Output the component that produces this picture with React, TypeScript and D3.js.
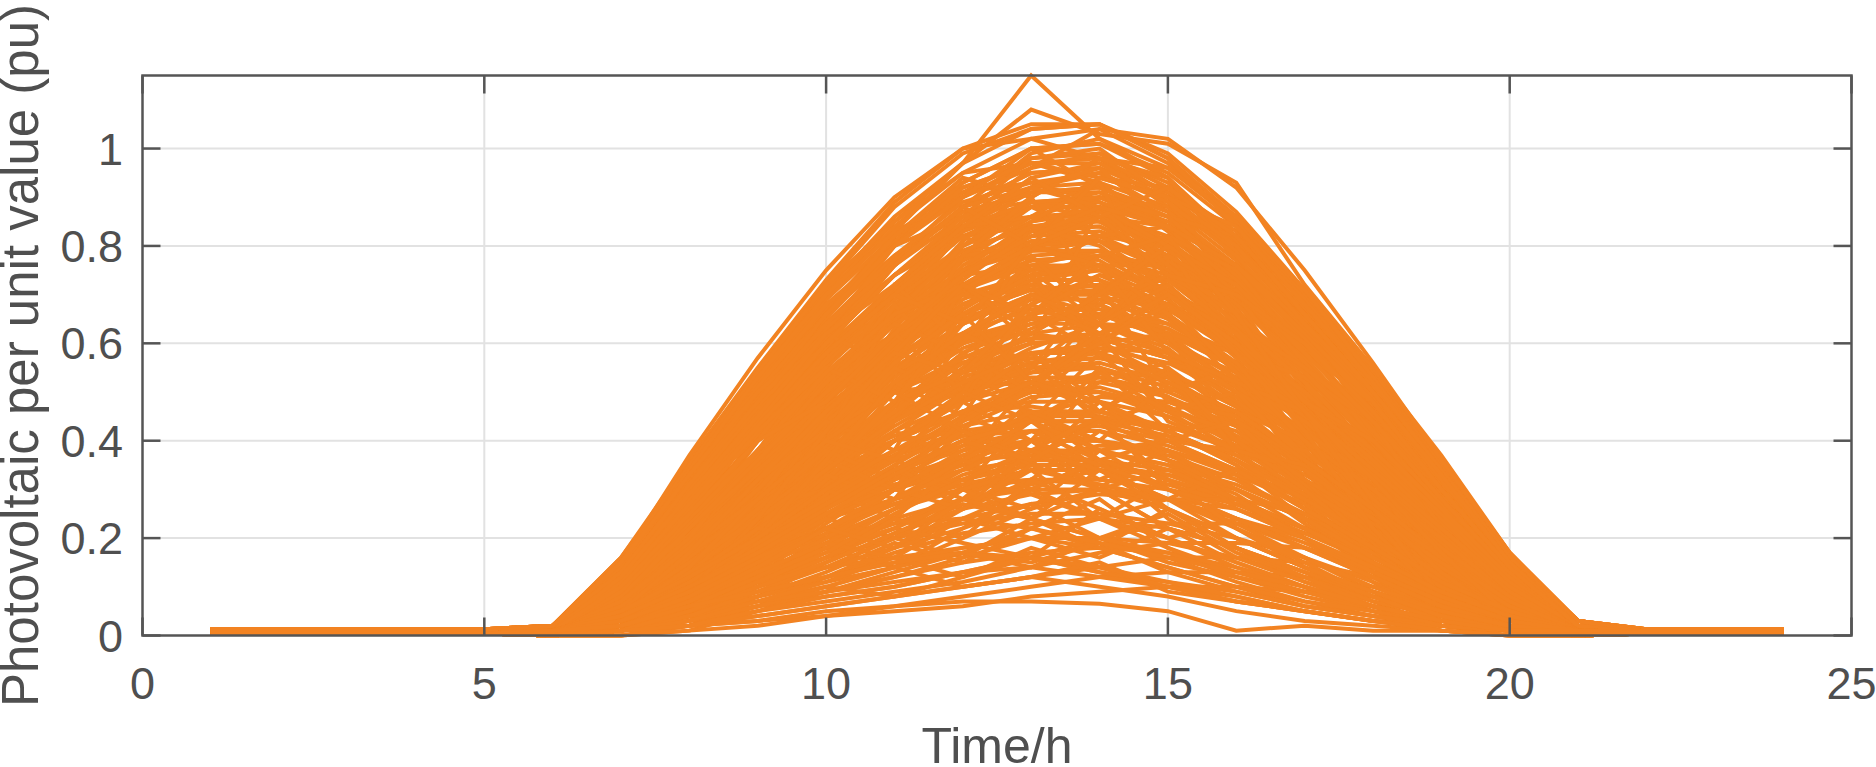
import React from "react";
import * as d3 from "d3";

// hours of the day, 1..24
const hours = [1, 2, 3, 4, 5, 6, 7, 8, 9, 10, 11, 12, 13, 14, 15, 16, 17, 18, 19, 20, 21, 22, 23, 24];

// night values (hours 1-5 and 22-24)
const nightHigh = [0.013, 0.013, 0.013, 0.013, 0.013];
const nightMid = [0.008, 0.008, 0.008, 0.008, 0.008];
const nightLow = [0.004, 0.004, 0.004, 0.004, 0.004];
const eveHigh = [0.013, 0.013, 0.013];
const eveMid = [0.008, 0.008, 0.008];
const eveLow = [0.004, 0.004, 0.004];

// daytime values, hours 6..21
const clearSummer = [
  [0.02, 0.16, 0.36, 0.55, 0.73, 0.89, 1.0, 1.05, 1.05, 0.99, 0.87, 0.71, 0.55, 0.36, 0.17, 0.03],
  [0.02, 0.16, 0.35, 0.54, 0.72, 0.88, 0.99, 1.04, 1.05, 0.98, 0.86, 0.7, 0.54, 0.35, 0.16, 0.03],
  [0.02, 0.15, 0.34, 0.53, 0.71, 0.86, 0.97, 1.15, 1.02, 0.96, 0.85, 0.7, 0.53, 0.34, 0.16, 0.02],
  [0.02, 0.15, 0.34, 0.52, 0.7, 0.85, 0.97, 1.08, 1.03, 1.01, 0.93, 0.72, 0.55, 0.37, 0.17, 0.03],
  [0.02, 0.14, 0.33, 0.51, 0.69, 0.84, 0.95, 1.02, 1.04, 0.97, 0.85, 0.7, 0.53, 0.35, 0.16, 0.03],
  [0.02, 0.14, 0.32, 0.5, 0.67, 0.82, 0.93, 1.0, 1.01, 0.95, 0.84, 0.69, 0.52, 0.33, 0.15, 0.02],
  [0.02, 0.13, 0.31, 0.48, 0.65, 0.8, 0.91, 0.98, 0.99, 0.93, 0.82, 0.67, 0.5, 0.32, 0.15, 0.02],
  [0.01, 0.12, 0.29, 0.46, 0.62, 0.77, 0.88, 0.95, 0.96, 0.9, 0.79, 0.65, 0.49, 0.31, 0.14, 0.02],
  [0.01, 0.12, 0.28, 0.44, 0.6, 0.74, 0.85, 0.92, 0.93, 0.88, 0.77, 0.63, 0.47, 0.3, 0.13, 0.02],
  [0.01, 0.11, 0.26, 0.42, 0.57, 0.71, 0.82, 0.88, 0.9, 0.85, 0.75, 0.61, 0.46, 0.29, 0.13, 0.02],
  [0.01, 0.1, 0.25, 0.4, 0.55, 0.68, 0.78, 0.85, 0.87, 0.82, 0.72, 0.59, 0.44, 0.28, 0.12, 0.02],
  [0.01, 0.1, 0.23, 0.38, 0.52, 0.65, 0.75, 0.82, 0.83, 0.78, 0.69, 0.57, 0.42, 0.27, 0.12, 0.02],
  [0.01, 0.09, 0.22, 0.36, 0.49, 0.62, 0.72, 0.78, 0.79, 0.75, 0.66, 0.54, 0.4, 0.26, 0.11, 0.02],
  [0.01, 0.09, 0.21, 0.34, 0.47, 0.58, 0.68, 0.74, 0.75, 0.71, 0.63, 0.52, 0.38, 0.24, 0.1, 0.02],
  [0.01, 0.08, 0.19, 0.31, 0.44, 0.55, 0.64, 0.7, 0.71, 0.67, 0.59, 0.49, 0.36, 0.23, 0.1, 0.01],
  [0.01, 0.08, 0.18, 0.29, 0.41, 0.51, 0.6, 0.65, 0.66, 0.62, 0.55, 0.45, 0.34, 0.21, 0.09, 0.01],
  [0.01, 0.07, 0.16, 0.27, 0.38, 0.48, 0.56, 0.61, 0.62, 0.58, 0.51, 0.42, 0.31, 0.2, 0.08, 0.01],
  [0.01, 0.06, 0.15, 0.25, 0.35, 0.44, 0.51, 0.56, 0.57, 0.54, 0.47, 0.39, 0.29, 0.18, 0.08, 0.01],
  [0.02, 0.15, 0.33, 0.5, 0.67, 0.81, 0.92, 0.97, 0.97, 0.91, 0.81, 0.66, 0.5, 0.33, 0.16, 0.03],
  [0.02, 0.14, 0.31, 0.47, 0.63, 0.76, 0.86, 0.91, 0.91, 0.86, 0.76, 0.62, 0.47, 0.31, 0.15, 0.03],
  [0.02, 0.13, 0.29, 0.45, 0.59, 0.72, 0.82, 0.86, 0.86, 0.81, 0.71, 0.58, 0.45, 0.29, 0.14, 0.03],
  [0.01, 0.08, 0.18, 0.28, 0.37, 0.45, 0.5, 0.53, 0.53, 0.5, 0.44, 0.36, 0.28, 0.18, 0.08, 0.02],
  [0.01, 0.07, 0.16, 0.25, 0.33, 0.4, 0.46, 0.48, 0.48, 0.45, 0.4, 0.33, 0.25, 0.16, 0.08, 0.01],
  [0.01, 0.07, 0.15, 0.23, 0.3, 0.37, 0.42, 0.44, 0.44, 0.41, 0.37, 0.3, 0.23, 0.15, 0.07, 0.01],
  [0.01, 0.06, 0.14, 0.21, 0.28, 0.34, 0.38, 0.4, 0.4, 0.38, 0.33, 0.27, 0.21, 0.14, 0.06, 0.01],
  [0.01, 0.05, 0.12, 0.19, 0.25, 0.3, 0.34, 0.36, 0.36, 0.34, 0.3, 0.24, 0.19, 0.12, 0.06, 0.01],
  [0.01, 0.05, 0.11, 0.17, 0.22, 0.27, 0.3, 0.32, 0.32, 0.3, 0.27, 0.22, 0.17, 0.11, 0.05, 0.01],
];

const earlyPeak = [
  [0.02, 0.15, 0.37, 0.57, 0.75, 0.9, 1.0, 1.02, 0.98, 0.88, 0.73, 0.57, 0.41, 0.24, 0.1, 0.02],
  [0.02, 0.15, 0.35, 0.54, 0.72, 0.85, 0.95, 0.97, 0.93, 0.83, 0.7, 0.54, 0.39, 0.23, 0.1, 0.02],
  [0.02, 0.14, 0.33, 0.52, 0.69, 0.82, 0.91, 0.93, 0.89, 0.8, 0.67, 0.52, 0.37, 0.22, 0.09, 0.02],
  [0.02, 0.13, 0.32, 0.5, 0.66, 0.78, 0.87, 0.89, 0.85, 0.77, 0.64, 0.5, 0.36, 0.21, 0.09, 0.02],
  [0.02, 0.13, 0.3, 0.47, 0.62, 0.74, 0.82, 0.84, 0.81, 0.72, 0.6, 0.47, 0.34, 0.2, 0.08, 0.02],
  [0.02, 0.12, 0.29, 0.45, 0.59, 0.7, 0.78, 0.8, 0.77, 0.69, 0.58, 0.45, 0.32, 0.19, 0.08, 0.02],
  [0.01, 0.11, 0.27, 0.43, 0.56, 0.67, 0.74, 0.76, 0.73, 0.65, 0.55, 0.43, 0.3, 0.18, 0.08, 0.01],
  [0.01, 0.11, 0.26, 0.4, 0.53, 0.62, 0.7, 0.71, 0.68, 0.61, 0.51, 0.4, 0.28, 0.17, 0.07, 0.01],
  [0.01, 0.1, 0.24, 0.38, 0.5, 0.59, 0.66, 0.67, 0.64, 0.58, 0.48, 0.38, 0.27, 0.16, 0.07, 0.01],
  [0.01, 0.09, 0.22, 0.35, 0.46, 0.55, 0.61, 0.62, 0.6, 0.53, 0.45, 0.35, 0.25, 0.15, 0.06, 0.01],
  [0.01, 0.09, 0.21, 0.32, 0.42, 0.5, 0.56, 0.57, 0.55, 0.49, 0.41, 0.32, 0.23, 0.14, 0.06, 0.01],
  [0.01, 0.08, 0.19, 0.29, 0.38, 0.46, 0.51, 0.52, 0.5, 0.45, 0.37, 0.29, 0.21, 0.12, 0.05, 0.01],
  [0.01, 0.07, 0.17, 0.26, 0.35, 0.41, 0.46, 0.47, 0.45, 0.4, 0.34, 0.26, 0.19, 0.11, 0.05, 0.01],
  [0.01, 0.06, 0.15, 0.24, 0.31, 0.37, 0.41, 0.42, 0.4, 0.36, 0.3, 0.24, 0.17, 0.1, 0.04, 0.01],
  [0.01, 0.06, 0.13, 0.21, 0.27, 0.33, 0.36, 0.37, 0.36, 0.32, 0.27, 0.21, 0.15, 0.09, 0.04, 0.01],
  [0.01, 0.05, 0.12, 0.18, 0.24, 0.28, 0.31, 0.32, 0.31, 0.28, 0.23, 0.18, 0.13, 0.08, 0.03, 0.01],
];

const latePeak = [
  [0.01, 0.08, 0.23, 0.4, 0.56, 0.71, 0.85, 0.96, 1.04, 1.02, 0.92, 0.75, 0.56, 0.36, 0.17, 0.03],
  [0.01, 0.08, 0.22, 0.37, 0.53, 0.67, 0.8, 0.9, 0.98, 0.96, 0.86, 0.71, 0.53, 0.34, 0.16, 0.03],
  [0.01, 0.08, 0.21, 0.36, 0.51, 0.64, 0.77, 0.86, 0.94, 0.92, 0.83, 0.68, 0.51, 0.33, 0.15, 0.03],
  [0.01, 0.07, 0.2, 0.34, 0.49, 0.61, 0.74, 0.83, 0.9, 0.88, 0.79, 0.65, 0.49, 0.32, 0.14, 0.03],
  [0.01, 0.07, 0.19, 0.33, 0.46, 0.58, 0.71, 0.79, 0.86, 0.84, 0.76, 0.62, 0.46, 0.3, 0.14, 0.03],
  [0.01, 0.07, 0.18, 0.31, 0.44, 0.56, 0.67, 0.75, 0.82, 0.8, 0.72, 0.59, 0.44, 0.29, 0.13, 0.02],
  [0.01, 0.06, 0.17, 0.3, 0.42, 0.53, 0.64, 0.72, 0.78, 0.76, 0.69, 0.56, 0.42, 0.27, 0.12, 0.02],
  [0.01, 0.06, 0.16, 0.28, 0.4, 0.5, 0.61, 0.68, 0.74, 0.73, 0.65, 0.53, 0.4, 0.26, 0.12, 0.02],
  [0.01, 0.06, 0.15, 0.26, 0.37, 0.47, 0.57, 0.63, 0.69, 0.68, 0.61, 0.5, 0.37, 0.24, 0.11, 0.02],
  [0.01, 0.05, 0.14, 0.24, 0.35, 0.44, 0.52, 0.59, 0.64, 0.63, 0.56, 0.46, 0.35, 0.22, 0.1, 0.02],
  [0.01, 0.05, 0.13, 0.22, 0.32, 0.4, 0.48, 0.54, 0.59, 0.58, 0.52, 0.42, 0.32, 0.21, 0.09, 0.02],
  [0.01, 0.04, 0.12, 0.21, 0.29, 0.37, 0.44, 0.5, 0.54, 0.53, 0.48, 0.39, 0.29, 0.19, 0.09, 0.02],
  [0.01, 0.04, 0.11, 0.19, 0.26, 0.33, 0.4, 0.45, 0.49, 0.48, 0.43, 0.35, 0.26, 0.17, 0.08, 0.01],
  [0.01, 0.04, 0.1, 0.17, 0.24, 0.3, 0.36, 0.4, 0.44, 0.43, 0.39, 0.32, 0.24, 0.15, 0.07, 0.01],
  [0.01, 0.03, 0.09, 0.15, 0.21, 0.27, 0.32, 0.36, 0.39, 0.38, 0.34, 0.28, 0.21, 0.14, 0.06, 0.01],
  [0.01, 0.03, 0.07, 0.13, 0.18, 0.23, 0.28, 0.31, 0.34, 0.33, 0.3, 0.24, 0.18, 0.12, 0.05, 0.01],
  [0.01, 0.02, 0.06, 0.11, 0.16, 0.2, 0.24, 0.27, 0.29, 0.28, 0.26, 0.21, 0.16, 0.1, 0.05, 0.01],
];

const clearSpring = [
  [0.01, 0.06, 0.23, 0.44, 0.65, 0.83, 0.97, 1.04, 1.05, 0.98, 0.84, 0.65, 0.44, 0.22, 0.05, 0.01],
  [0.01, 0.06, 0.22, 0.42, 0.62, 0.8, 0.93, 1.0, 1.01, 0.94, 0.81, 0.63, 0.43, 0.21, 0.05, 0.01],
  [0.01, 0.05, 0.21, 0.4, 0.59, 0.76, 0.88, 0.95, 0.96, 0.9, 0.78, 0.6, 0.41, 0.2, 0.05, 0.01],
  [0.01, 0.05, 0.2, 0.38, 0.56, 0.72, 0.84, 0.91, 0.92, 0.86, 0.74, 0.57, 0.39, 0.19, 0.05, 0.01],
  [0.01, 0.05, 0.19, 0.36, 0.53, 0.68, 0.8, 0.86, 0.87, 0.81, 0.7, 0.54, 0.37, 0.18, 0.04, 0.01],
  [0.01, 0.05, 0.18, 0.34, 0.5, 0.64, 0.75, 0.81, 0.82, 0.76, 0.66, 0.51, 0.35, 0.17, 0.04, 0.01],
  [0.01, 0.04, 0.16, 0.31, 0.46, 0.59, 0.69, 0.75, 0.76, 0.71, 0.61, 0.47, 0.32, 0.16, 0.04, 0.01],
  [0.01, 0.04, 0.15, 0.29, 0.42, 0.55, 0.64, 0.7, 0.7, 0.65, 0.56, 0.44, 0.3, 0.15, 0.04, 0.01],
  [0.01, 0.04, 0.14, 0.26, 0.39, 0.5, 0.59, 0.64, 0.64, 0.6, 0.52, 0.4, 0.27, 0.14, 0.03, 0.01],
  [0.01, 0.03, 0.12, 0.24, 0.35, 0.45, 0.53, 0.58, 0.58, 0.54, 0.47, 0.36, 0.25, 0.12, 0.03, 0.01],
  [0.01, 0.06, 0.21, 0.41, 0.61, 0.77, 0.9, 0.97, 0.98, 0.91, 0.78, 0.61, 0.41, 0.21, 0.05, 0.01],
  [0.01, 0.05, 0.19, 0.38, 0.56, 0.71, 0.83, 0.89, 0.9, 0.84, 0.72, 0.56, 0.38, 0.19, 0.05, 0.01],
  [0.01, 0.05, 0.18, 0.35, 0.52, 0.66, 0.77, 0.83, 0.84, 0.78, 0.67, 0.52, 0.35, 0.18, 0.04, 0.01],
  [0.01, 0.05, 0.16, 0.33, 0.48, 0.62, 0.72, 0.77, 0.78, 0.73, 0.62, 0.48, 0.33, 0.16, 0.04, 0.01],
  [0.01, 0.04, 0.15, 0.3, 0.45, 0.57, 0.66, 0.71, 0.72, 0.67, 0.58, 0.45, 0.3, 0.15, 0.04, 0.01],
  [0.01, 0.04, 0.14, 0.28, 0.41, 0.52, 0.61, 0.65, 0.66, 0.61, 0.53, 0.41, 0.28, 0.14, 0.03, 0.01],
  [0.01, 0.04, 0.13, 0.26, 0.38, 0.48, 0.56, 0.6, 0.61, 0.57, 0.49, 0.38, 0.26, 0.13, 0.03, 0.01],
  [0.01, 0.03, 0.12, 0.23, 0.34, 0.43, 0.51, 0.54, 0.55, 0.51, 0.44, 0.34, 0.23, 0.12, 0.03, 0.01],
  [0.01, 0.03, 0.11, 0.21, 0.31, 0.4, 0.46, 0.5, 0.5, 0.47, 0.4, 0.31, 0.21, 0.11, 0.03, 0.01],
  [0.01, 0.03, 0.09, 0.19, 0.28, 0.36, 0.41, 0.45, 0.45, 0.42, 0.36, 0.28, 0.19, 0.09, 0.02, 0.01],
  [0.01, 0.02, 0.08, 0.17, 0.25, 0.32, 0.37, 0.4, 0.4, 0.37, 0.32, 0.25, 0.17, 0.08, 0.02, 0.01],
  [0.01, 0.02, 0.07, 0.15, 0.22, 0.28, 0.32, 0.35, 0.35, 0.33, 0.28, 0.22, 0.15, 0.07, 0.02, 0.01],
  [0.01, 0.02, 0.06, 0.13, 0.19, 0.24, 0.28, 0.3, 0.3, 0.28, 0.24, 0.19, 0.13, 0.06, 0.02, 0.01],
  [0.01, 0.02, 0.05, 0.11, 0.16, 0.2, 0.23, 0.25, 0.25, 0.23, 0.2, 0.16, 0.11, 0.05, 0.01, 0.01],
  [0.01, 0.01, 0.04, 0.08, 0.12, 0.16, 0.18, 0.2, 0.2, 0.19, 0.16, 0.12, 0.08, 0.04, 0.01, 0.01],
];

const clearWinter = [
  [0.0, 0.01, 0.08, 0.26, 0.5, 0.71, 0.88, 0.99, 1.02, 0.94, 0.77, 0.54, 0.29, 0.08, 0.01, 0.0],
  [0.0, 0.01, 0.08, 0.25, 0.47, 0.67, 0.83, 0.94, 0.97, 0.89, 0.73, 0.51, 0.28, 0.08, 0.01, 0.0],
  [0.0, 0.01, 0.07, 0.23, 0.44, 0.63, 0.78, 0.88, 0.91, 0.84, 0.69, 0.48, 0.26, 0.07, 0.01, 0.0],
  [0.0, 0.01, 0.07, 0.22, 0.42, 0.59, 0.73, 0.83, 0.86, 0.79, 0.65, 0.46, 0.25, 0.07, 0.01, 0.0],
  [0.0, 0.01, 0.06, 0.2, 0.38, 0.54, 0.67, 0.76, 0.79, 0.72, 0.59, 0.42, 0.22, 0.06, 0.01, 0.0],
  [0.0, 0.01, 0.06, 0.18, 0.35, 0.5, 0.62, 0.7, 0.72, 0.66, 0.54, 0.38, 0.2, 0.06, 0.01, 0.0],
  [0.0, 0.01, 0.05, 0.16, 0.31, 0.44, 0.55, 0.62, 0.64, 0.59, 0.48, 0.34, 0.18, 0.05, 0.01, 0.0],
  [0.0, 0.01, 0.05, 0.15, 0.28, 0.4, 0.5, 0.56, 0.58, 0.53, 0.44, 0.31, 0.17, 0.05, 0.01, 0.0],
  [0.0, 0.01, 0.04, 0.13, 0.24, 0.35, 0.43, 0.49, 0.5, 0.46, 0.38, 0.27, 0.15, 0.04, 0.01, 0.0],
  [0.0, 0.01, 0.04, 0.11, 0.21, 0.3, 0.37, 0.42, 0.43, 0.4, 0.33, 0.23, 0.13, 0.04, 0.01, 0.0],
  [0.0, 0.01, 0.08, 0.24, 0.47, 0.66, 0.81, 0.92, 0.95, 0.87, 0.72, 0.5, 0.27, 0.08, 0.01, 0.0],
  [0.0, 0.01, 0.07, 0.22, 0.43, 0.61, 0.75, 0.85, 0.88, 0.81, 0.66, 0.47, 0.25, 0.07, 0.01, 0.0],
  [0.0, 0.01, 0.07, 0.21, 0.4, 0.57, 0.7, 0.8, 0.82, 0.75, 0.62, 0.44, 0.23, 0.07, 0.01, 0.0],
  [0.0, 0.01, 0.06, 0.19, 0.37, 0.52, 0.64, 0.73, 0.75, 0.69, 0.57, 0.4, 0.21, 0.06, 0.01, 0.0],
  [0.0, 0.01, 0.06, 0.17, 0.33, 0.47, 0.58, 0.66, 0.68, 0.62, 0.51, 0.36, 0.19, 0.06, 0.01, 0.0],
  [0.0, 0.01, 0.05, 0.15, 0.29, 0.42, 0.51, 0.58, 0.6, 0.55, 0.45, 0.32, 0.17, 0.05, 0.01, 0.0],
  [0.0, 0.01, 0.04, 0.14, 0.26, 0.37, 0.45, 0.51, 0.53, 0.49, 0.4, 0.28, 0.15, 0.04, 0.01, 0.0],
  [0.0, 0.01, 0.04, 0.12, 0.23, 0.32, 0.39, 0.45, 0.46, 0.42, 0.35, 0.24, 0.13, 0.04, 0.01, 0.0],
  [0.0, 0.01, 0.03, 0.1, 0.19, 0.26, 0.33, 0.37, 0.38, 0.35, 0.29, 0.2, 0.11, 0.03, 0.01, 0.0],
  [0.0, 0.01, 0.02, 0.08, 0.15, 0.21, 0.26, 0.29, 0.3, 0.28, 0.23, 0.16, 0.09, 0.02, 0.01, 0.0],
  [0.0, 0.0, 0.02, 0.06, 0.12, 0.17, 0.21, 0.23, 0.24, 0.22, 0.18, 0.13, 0.07, 0.02, 0.0, 0.0],
  [0.0, 0.0, 0.01, 0.05, 0.09, 0.12, 0.15, 0.17, 0.18, 0.17, 0.14, 0.1, 0.05, 0.01, 0.0, 0.0],
];

const mixedSky = [
  [0.02, 0.14, 0.34, 0.53, 0.7, 0.83, 0.9, 0.96, 0.99, 0.92, 0.8, 0.66, 0.5, 0.33, 0.15, 0.03],
  [0.02, 0.13, 0.32, 0.49, 0.66, 0.8, 0.92, 0.97, 0.94, 0.9, 0.79, 0.64, 0.49, 0.31, 0.14, 0.02],
  [0.01, 0.11, 0.29, 0.47, 0.64, 0.78, 0.89, 0.93, 0.95, 0.89, 0.78, 0.63, 0.46, 0.29, 0.13, 0.02],
  [0.01, 0.1, 0.27, 0.45, 0.63, 0.77, 0.87, 0.91, 0.92, 0.87, 0.76, 0.61, 0.45, 0.28, 0.12, 0.02],
  [0.01, 0.09, 0.25, 0.43, 0.6, 0.74, 0.84, 0.89, 0.89, 0.84, 0.73, 0.59, 0.43, 0.27, 0.12, 0.02],
  [0.01, 0.12, 0.3, 0.47, 0.62, 0.74, 0.83, 0.88, 0.88, 0.8, 0.69, 0.55, 0.4, 0.25, 0.11, 0.02],
  [0.01, 0.11, 0.28, 0.44, 0.58, 0.7, 0.79, 0.84, 0.84, 0.77, 0.66, 0.52, 0.38, 0.23, 0.1, 0.02],
  [0.01, 0.09, 0.24, 0.4, 0.56, 0.69, 0.79, 0.84, 0.85, 0.8, 0.7, 0.57, 0.42, 0.27, 0.12, 0.02],
  [0.01, 0.08, 0.22, 0.37, 0.52, 0.65, 0.75, 0.8, 0.81, 0.77, 0.68, 0.56, 0.41, 0.26, 0.11, 0.02],
  [0.01, 0.07, 0.2, 0.34, 0.48, 0.61, 0.71, 0.77, 0.78, 0.74, 0.66, 0.54, 0.4, 0.25, 0.11, 0.02],
  [0.01, 0.1, 0.25, 0.4, 0.54, 0.66, 0.75, 0.79, 0.79, 0.73, 0.63, 0.5, 0.36, 0.22, 0.1, 0.02],
  [0.01, 0.09, 0.23, 0.37, 0.5, 0.62, 0.71, 0.76, 0.76, 0.71, 0.62, 0.5, 0.37, 0.23, 0.1, 0.02],
  [0.01, 0.08, 0.21, 0.35, 0.48, 0.59, 0.68, 0.73, 0.73, 0.68, 0.59, 0.48, 0.35, 0.22, 0.09, 0.01],
  [0.01, 0.07, 0.19, 0.32, 0.45, 0.57, 0.66, 0.71, 0.72, 0.68, 0.6, 0.49, 0.36, 0.22, 0.09, 0.01],
  [0.01, 0.09, 0.22, 0.35, 0.47, 0.57, 0.65, 0.69, 0.69, 0.64, 0.56, 0.45, 0.33, 0.2, 0.09, 0.01],
  [0.01, 0.08, 0.2, 0.32, 0.44, 0.54, 0.62, 0.67, 0.67, 0.63, 0.55, 0.45, 0.33, 0.21, 0.09, 0.01],
  [0.01, 0.07, 0.18, 0.3, 0.42, 0.52, 0.6, 0.65, 0.66, 0.62, 0.55, 0.45, 0.34, 0.21, 0.09, 0.01],
  [0.01, 0.08, 0.19, 0.3, 0.41, 0.5, 0.57, 0.61, 0.61, 0.57, 0.5, 0.4, 0.3, 0.19, 0.08, 0.01],
  [0.01, 0.07, 0.17, 0.28, 0.38, 0.47, 0.54, 0.58, 0.59, 0.56, 0.49, 0.4, 0.3, 0.19, 0.08, 0.01],
  [0.01, 0.06, 0.16, 0.26, 0.36, 0.45, 0.52, 0.56, 0.57, 0.54, 0.48, 0.39, 0.29, 0.18, 0.08, 0.01],
  [0.01, 0.07, 0.17, 0.27, 0.37, 0.45, 0.51, 0.55, 0.55, 0.51, 0.45, 0.36, 0.27, 0.17, 0.07, 0.01],
  [0.01, 0.06, 0.15, 0.25, 0.34, 0.42, 0.48, 0.52, 0.52, 0.49, 0.43, 0.35, 0.26, 0.16, 0.07, 0.01],
  [0.01, 0.05, 0.14, 0.23, 0.32, 0.4, 0.46, 0.5, 0.5, 0.47, 0.41, 0.34, 0.25, 0.16, 0.07, 0.01],
  [0.01, 0.06, 0.14, 0.23, 0.31, 0.38, 0.43, 0.46, 0.46, 0.43, 0.38, 0.31, 0.23, 0.14, 0.06, 0.01],
  [0.01, 0.05, 0.13, 0.21, 0.29, 0.36, 0.41, 0.44, 0.44, 0.41, 0.36, 0.29, 0.22, 0.14, 0.06, 0.01],
  [0.01, 0.05, 0.12, 0.2, 0.27, 0.34, 0.39, 0.42, 0.42, 0.39, 0.34, 0.28, 0.21, 0.13, 0.06, 0.01],
  [0.01, 0.04, 0.11, 0.18, 0.25, 0.31, 0.35, 0.38, 0.38, 0.35, 0.31, 0.25, 0.19, 0.12, 0.05, 0.01],
  [0.01, 0.04, 0.1, 0.16, 0.22, 0.27, 0.31, 0.34, 0.34, 0.31, 0.27, 0.22, 0.17, 0.11, 0.05, 0.01],
  [0.02, 0.14, 0.33, 0.51, 0.68, 0.8, 0.86, 0.98, 1.0, 0.9, 0.84, 0.68, 0.52, 0.34, 0.16, 0.03],
  [0.02, 0.13, 0.31, 0.5, 0.66, 0.82, 0.94, 0.9, 0.98, 0.94, 0.8, 0.66, 0.5, 0.33, 0.15, 0.03],
  [0.01, 0.12, 0.3, 0.48, 0.66, 0.8, 0.9, 1.0, 0.92, 0.86, 0.82, 0.66, 0.5, 0.32, 0.15, 0.02],
  [0.01, 0.11, 0.28, 0.46, 0.6, 0.76, 0.88, 0.92, 0.96, 0.84, 0.76, 0.64, 0.48, 0.3, 0.14, 0.02],
  [0.01, 0.1, 0.26, 0.44, 0.58, 0.72, 0.84, 0.86, 0.9, 0.86, 0.74, 0.6, 0.46, 0.28, 0.13, 0.02],
  [0.01, 0.09, 0.25, 0.4, 0.57, 0.7, 0.8, 0.88, 0.82, 0.84, 0.72, 0.56, 0.42, 0.27, 0.12, 0.02],
  [0.01, 0.08, 0.23, 0.38, 0.53, 0.66, 0.78, 0.8, 0.86, 0.78, 0.68, 0.55, 0.4, 0.26, 0.11, 0.02],
  [0.01, 0.07, 0.21, 0.36, 0.5, 0.64, 0.72, 0.8, 0.76, 0.76, 0.66, 0.52, 0.38, 0.24, 0.1, 0.02],
  [0.01, 0.08, 0.22, 0.36, 0.48, 0.6, 0.7, 0.74, 0.78, 0.7, 0.62, 0.5, 0.37, 0.23, 0.1, 0.02],
  [0.01, 0.07, 0.19, 0.33, 0.46, 0.56, 0.68, 0.72, 0.7, 0.72, 0.6, 0.48, 0.35, 0.22, 0.1, 0.01],
  [0.01, 0.06, 0.17, 0.3, 0.42, 0.54, 0.62, 0.7, 0.66, 0.64, 0.58, 0.46, 0.34, 0.21, 0.09, 0.01],
  [0.01, 0.06, 0.16, 0.28, 0.4, 0.5, 0.6, 0.64, 0.68, 0.6, 0.54, 0.44, 0.32, 0.2, 0.09, 0.01],
  [0.0, 0.02, 0.1, 0.27, 0.48, 0.66, 0.8, 0.89, 0.9, 0.84, 0.7, 0.52, 0.32, 0.12, 0.02, 0.0],
  [0.0, 0.02, 0.09, 0.25, 0.45, 0.62, 0.76, 0.84, 0.86, 0.8, 0.67, 0.49, 0.3, 0.11, 0.02, 0.0],
  [0.0, 0.02, 0.09, 0.24, 0.42, 0.58, 0.71, 0.79, 0.81, 0.75, 0.63, 0.46, 0.28, 0.1, 0.02, 0.0],
  [0.0, 0.02, 0.08, 0.22, 0.39, 0.54, 0.66, 0.74, 0.76, 0.7, 0.59, 0.43, 0.26, 0.09, 0.02, 0.0],
  [0.0, 0.02, 0.08, 0.21, 0.37, 0.51, 0.62, 0.69, 0.71, 0.66, 0.55, 0.4, 0.24, 0.09, 0.02, 0.0],
  [0.0, 0.02, 0.07, 0.19, 0.34, 0.47, 0.58, 0.64, 0.66, 0.61, 0.51, 0.37, 0.22, 0.08, 0.01, 0.0],
  [0.0, 0.02, 0.07, 0.18, 0.32, 0.44, 0.54, 0.6, 0.61, 0.57, 0.47, 0.34, 0.21, 0.07, 0.01, 0.0],
  [0.0, 0.01, 0.06, 0.16, 0.29, 0.4, 0.49, 0.55, 0.56, 0.52, 0.43, 0.31, 0.19, 0.07, 0.01, 0.0],
  [0.0, 0.01, 0.06, 0.15, 0.27, 0.37, 0.45, 0.5, 0.51, 0.47, 0.39, 0.29, 0.17, 0.06, 0.01, 0.0],
  [0.0, 0.01, 0.05, 0.13, 0.24, 0.33, 0.4, 0.45, 0.46, 0.42, 0.35, 0.26, 0.15, 0.05, 0.01, 0.0],
];

const clearingAfternoon = [
  [0.0, 0.02, 0.06, 0.12, 0.2, 0.3, 0.42, 0.55, 0.66, 0.7, 0.64, 0.52, 0.38, 0.24, 0.1, 0.01],
  [0.0, 0.01, 0.05, 0.1, 0.16, 0.24, 0.36, 0.48, 0.6, 0.62, 0.58, 0.48, 0.36, 0.22, 0.09, 0.01],
  [0.01, 0.03, 0.07, 0.12, 0.18, 0.26, 0.34, 0.44, 0.52, 0.56, 0.52, 0.44, 0.33, 0.21, 0.09, 0.02],
  [0.0, 0.02, 0.05, 0.09, 0.14, 0.2, 0.28, 0.36, 0.44, 0.48, 0.46, 0.4, 0.3, 0.19, 0.08, 0.01],
  [0.01, 0.02, 0.05, 0.08, 0.12, 0.18, 0.24, 0.3, 0.36, 0.4, 0.38, 0.34, 0.27, 0.17, 0.07, 0.01],
  [0.0, 0.01, 0.04, 0.07, 0.1, 0.14, 0.2, 0.26, 0.3, 0.34, 0.33, 0.29, 0.23, 0.15, 0.06, 0.01],
  [0.0, 0.01, 0.03, 0.06, 0.09, 0.12, 0.16, 0.2, 0.24, 0.28, 0.28, 0.25, 0.2, 0.13, 0.06, 0.01],
  [0.01, 0.02, 0.04, 0.06, 0.08, 0.1, 0.13, 0.16, 0.2, 0.23, 0.23, 0.21, 0.17, 0.11, 0.05, 0.01],
  [0.0, 0.01, 0.03, 0.05, 0.07, 0.09, 0.11, 0.14, 0.17, 0.19, 0.19, 0.18, 0.14, 0.09, 0.04, 0.01],
  [0.0, 0.01, 0.02, 0.04, 0.06, 0.08, 0.1, 0.12, 0.14, 0.16, 0.16, 0.15, 0.12, 0.08, 0.04, 0.0],
  [0.0, 0.01, 0.02, 0.03, 0.05, 0.06, 0.08, 0.1, 0.12, 0.13, 0.13, 0.12, 0.1, 0.07, 0.03, 0.0],
  [0.0, 0.0, 0.02, 0.03, 0.04, 0.05, 0.06, 0.08, 0.09, 0.1, 0.1, 0.09, 0.08, 0.05, 0.02, 0.0],
];

const clearingMorning = [
  [0.01, 0.1, 0.24, 0.38, 0.5, 0.58, 0.62, 0.56, 0.44, 0.32, 0.22, 0.14, 0.09, 0.05, 0.02, 0.01],
  [0.01, 0.08, 0.2, 0.32, 0.42, 0.5, 0.52, 0.46, 0.36, 0.26, 0.18, 0.11, 0.07, 0.04, 0.02, 0.01],
  [0.01, 0.07, 0.17, 0.27, 0.35, 0.4, 0.42, 0.38, 0.3, 0.22, 0.15, 0.1, 0.06, 0.03, 0.01, 0.01],
  [0.01, 0.05, 0.13, 0.21, 0.27, 0.31, 0.32, 0.29, 0.24, 0.18, 0.12, 0.08, 0.05, 0.03, 0.01, 0.01],
  [0.01, 0.04, 0.1, 0.16, 0.2, 0.23, 0.24, 0.22, 0.18, 0.14, 0.1, 0.06, 0.04, 0.02, 0.01, 0.01],
  [0.0, 0.03, 0.07, 0.11, 0.14, 0.16, 0.17, 0.16, 0.13, 0.1, 0.07, 0.05, 0.03, 0.02, 0.01, 0.0],
];

const partlyCloudy = [
  [0.02, 0.15, 0.33, 0.5, 0.62, 0.55, 0.78, 0.9, 0.7, 0.82, 0.75, 0.58, 0.48, 0.3, 0.14, 0.02],
  [0.01, 0.12, 0.3, 0.47, 0.4, 0.68, 0.52, 0.85, 0.93, 0.66, 0.71, 0.6, 0.4, 0.26, 0.12, 0.02],
  [0.01, 0.1, 0.27, 0.35, 0.55, 0.45, 0.72, 0.6, 0.88, 0.8, 0.58, 0.53, 0.44, 0.22, 0.1, 0.01],
  [0.01, 0.08, 0.2, 0.38, 0.5, 0.72, 0.6, 0.78, 0.65, 0.74, 0.62, 0.42, 0.3, 0.2, 0.08, 0.01],
  [0.01, 0.06, 0.18, 0.3, 0.44, 0.38, 0.62, 0.55, 0.72, 0.5, 0.55, 0.46, 0.28, 0.16, 0.05, 0.01],
  [0.01, 0.05, 0.16, 0.28, 0.35, 0.52, 0.45, 0.66, 0.58, 0.62, 0.4, 0.38, 0.26, 0.13, 0.04, 0.01],
  [0.0, 0.02, 0.1, 0.24, 0.4, 0.55, 0.48, 0.7, 0.62, 0.66, 0.52, 0.34, 0.2, 0.07, 0.01, 0.0],
  [0.0, 0.02, 0.09, 0.2, 0.32, 0.45, 0.58, 0.5, 0.64, 0.48, 0.45, 0.32, 0.18, 0.06, 0.01, 0.0],
  [0.01, 0.07, 0.17, 0.26, 0.3, 0.42, 0.36, 0.52, 0.46, 0.55, 0.38, 0.35, 0.24, 0.14, 0.06, 0.01],
  [0.01, 0.06, 0.14, 0.22, 0.33, 0.28, 0.45, 0.4, 0.55, 0.42, 0.44, 0.3, 0.22, 0.12, 0.05, 0.01],
  [0.01, 0.05, 0.12, 0.2, 0.28, 0.36, 0.3, 0.46, 0.38, 0.4, 0.34, 0.28, 0.18, 0.1, 0.04, 0.01],
  [0.0, 0.02, 0.08, 0.17, 0.26, 0.34, 0.42, 0.35, 0.48, 0.36, 0.32, 0.24, 0.14, 0.05, 0.01, 0.0],
  [0.01, 0.05, 0.13, 0.24, 0.36, 0.46, 0.56, 0.45, 0.4, 0.52, 0.46, 0.36, 0.26, 0.15, 0.06, 0.01],
  [0.01, 0.04, 0.11, 0.18, 0.24, 0.3, 0.35, 0.42, 0.36, 0.32, 0.28, 0.22, 0.16, 0.09, 0.03, 0.01],
  [0.01, 0.06, 0.15, 0.25, 0.35, 0.48, 0.64, 0.72, 0.58, 0.46, 0.5, 0.42, 0.32, 0.18, 0.07, 0.01],
  [0.01, 0.08, 0.22, 0.36, 0.52, 0.64, 0.58, 0.5, 0.68, 0.74, 0.66, 0.54, 0.4, 0.24, 0.1, 0.01],
  [0.01, 0.1, 0.24, 0.4, 0.58, 0.7, 0.82, 0.75, 0.64, 0.78, 0.7, 0.58, 0.44, 0.28, 0.12, 0.02],
  [0.01, 0.09, 0.22, 0.34, 0.46, 0.6, 0.74, 0.84, 0.8, 0.7, 0.6, 0.5, 0.38, 0.25, 0.11, 0.02],
  [0.01, 0.11, 0.28, 0.44, 0.6, 0.74, 0.86, 0.92, 0.88, 0.76, 0.64, 0.55, 0.44, 0.3, 0.14, 0.02],
  [0.01, 0.07, 0.19, 0.32, 0.48, 0.62, 0.7, 0.66, 0.74, 0.68, 0.58, 0.48, 0.36, 0.22, 0.09, 0.01],
  [0.0, 0.03, 0.12, 0.28, 0.46, 0.6, 0.72, 0.8, 0.76, 0.66, 0.56, 0.4, 0.24, 0.08, 0.01, 0.0],
  [0.0, 0.02, 0.1, 0.22, 0.34, 0.48, 0.54, 0.62, 0.7, 0.6, 0.5, 0.36, 0.22, 0.07, 0.01, 0.0],
];

const brokenCloud = [
  [0.01, 0.1, 0.26, 0.42, 0.55, 0.48, 0.66, 0.74, 0.6, 0.7, 0.62, 0.48, 0.4, 0.26, 0.12, 0.02],
  [0.01, 0.08, 0.22, 0.36, 0.5, 0.62, 0.5, 0.68, 0.76, 0.58, 0.52, 0.46, 0.34, 0.22, 0.1, 0.02],
  [0.01, 0.06, 0.18, 0.32, 0.42, 0.56, 0.66, 0.52, 0.6, 0.68, 0.54, 0.4, 0.3, 0.18, 0.08, 0.01],
  [0.0, 0.02, 0.1, 0.22, 0.36, 0.3, 0.48, 0.58, 0.46, 0.54, 0.4, 0.3, 0.18, 0.06, 0.01, 0.0],
  [0.01, 0.05, 0.14, 0.26, 0.38, 0.32, 0.44, 0.52, 0.62, 0.44, 0.38, 0.34, 0.24, 0.14, 0.06, 0.01],
  [0.01, 0.07, 0.18, 0.28, 0.4, 0.5, 0.42, 0.36, 0.54, 0.46, 0.42, 0.32, 0.24, 0.15, 0.06, 0.01],
  [0.01, 0.04, 0.12, 0.22, 0.3, 0.4, 0.48, 0.4, 0.3, 0.42, 0.36, 0.26, 0.18, 0.1, 0.04, 0.01],
  [0.01, 0.05, 0.13, 0.2, 0.3, 0.24, 0.36, 0.44, 0.34, 0.28, 0.34, 0.26, 0.18, 0.1, 0.04, 0.01],
  [0.0, 0.02, 0.07, 0.16, 0.24, 0.34, 0.28, 0.4, 0.32, 0.38, 0.26, 0.2, 0.12, 0.04, 0.01, 0.0],
  [0.01, 0.03, 0.09, 0.17, 0.24, 0.2, 0.3, 0.26, 0.38, 0.3, 0.24, 0.2, 0.14, 0.08, 0.03, 0.01],
  [0.01, 0.04, 0.11, 0.19, 0.27, 0.35, 0.26, 0.32, 0.42, 0.36, 0.28, 0.22, 0.15, 0.08, 0.03, 0.01],
  [0.01, 0.06, 0.15, 0.24, 0.34, 0.44, 0.52, 0.58, 0.48, 0.4, 0.44, 0.36, 0.26, 0.16, 0.07, 0.01],
  [0.01, 0.09, 0.24, 0.38, 0.54, 0.66, 0.72, 0.62, 0.7, 0.8, 0.72, 0.58, 0.44, 0.28, 0.13, 0.02],
  [0.01, 0.11, 0.27, 0.43, 0.58, 0.7, 0.64, 0.8, 0.86, 0.74, 0.7, 0.6, 0.46, 0.3, 0.14, 0.02],
  [0.02, 0.13, 0.31, 0.48, 0.64, 0.76, 0.88, 0.8, 0.94, 0.9, 0.8, 0.64, 0.5, 0.32, 0.15, 0.03],
  [0.01, 0.12, 0.29, 0.45, 0.62, 0.72, 0.84, 0.94, 0.86, 0.92, 0.82, 0.66, 0.5, 0.33, 0.15, 0.02],
  [0.01, 0.1, 0.25, 0.4, 0.48, 0.62, 0.74, 0.82, 0.88, 0.84, 0.76, 0.62, 0.48, 0.3, 0.14, 0.02],
  [0.0, 0.02, 0.09, 0.24, 0.42, 0.58, 0.72, 0.66, 0.78, 0.82, 0.66, 0.46, 0.26, 0.08, 0.01, 0.0],
  [0.0, 0.02, 0.08, 0.2, 0.36, 0.52, 0.62, 0.7, 0.64, 0.72, 0.58, 0.42, 0.22, 0.07, 0.01, 0.0],
  [0.01, 0.05, 0.17, 0.32, 0.46, 0.58, 0.54, 0.68, 0.62, 0.7, 0.6, 0.46, 0.32, 0.17, 0.04, 0.01],
  [0.01, 0.04, 0.14, 0.28, 0.4, 0.36, 0.5, 0.44, 0.58, 0.52, 0.46, 0.36, 0.26, 0.13, 0.03, 0.01],
  [0.01, 0.04, 0.12, 0.22, 0.2, 0.3, 0.38, 0.46, 0.4, 0.36, 0.3, 0.22, 0.15, 0.08, 0.03, 0.01],
  [0.01, 0.03, 0.08, 0.14, 0.22, 0.18, 0.26, 0.34, 0.24, 0.2, 0.24, 0.18, 0.12, 0.06, 0.02, 0.01],
  [0.01, 0.03, 0.07, 0.12, 0.16, 0.22, 0.3, 0.24, 0.18, 0.26, 0.2, 0.14, 0.09, 0.05, 0.02, 0.01],
  [0.0, 0.01, 0.05, 0.11, 0.18, 0.14, 0.22, 0.3, 0.36, 0.24, 0.16, 0.11, 0.06, 0.02, 0.01, 0.0],
  [0.01, 0.02, 0.06, 0.1, 0.14, 0.2, 0.16, 0.24, 0.2, 0.15, 0.12, 0.09, 0.06, 0.03, 0.01, 0.01],
  [0.01, 0.03, 0.07, 0.12, 0.17, 0.22, 0.19, 0.16, 0.26, 0.2, 0.14, 0.1, 0.06, 0.03, 0.01, 0.01],
  [0.0, 0.01, 0.03, 0.06, 0.09, 0.13, 0.17, 0.14, 0.2, 0.16, 0.11, 0.07, 0.04, 0.02, 0.01, 0.0],
  [0.01, 0.02, 0.04, 0.07, 0.1, 0.08, 0.12, 0.16, 0.13, 0.11, 0.09, 0.06, 0.04, 0.02, 0.01, 0.01],
  [0.01, 0.02, 0.05, 0.08, 0.11, 0.14, 0.1, 0.12, 0.15, 0.09, 0.07, 0.05, 0.03, 0.02, 0.01, 0.01],
];

const overcast = [
  [0.01, 0.04, 0.09, 0.14, 0.2, 0.26, 0.3, 0.34, 0.31, 0.28, 0.22, 0.16, 0.1, 0.05, 0.02, 0.01],
  [0.01, 0.03, 0.08, 0.12, 0.18, 0.22, 0.28, 0.24, 0.3, 0.22, 0.18, 0.13, 0.08, 0.04, 0.02, 0.01],
  [0.0, 0.01, 0.05, 0.1, 0.16, 0.24, 0.2, 0.32, 0.26, 0.2, 0.15, 0.1, 0.06, 0.03, 0.01, 0.0],
  [0.01, 0.03, 0.07, 0.11, 0.14, 0.18, 0.22, 0.27, 0.2, 0.25, 0.17, 0.12, 0.07, 0.04, 0.01, 0.01],
  [0.0, 0.01, 0.04, 0.08, 0.13, 0.19, 0.15, 0.22, 0.28, 0.18, 0.13, 0.09, 0.05, 0.02, 0.01, 0.0],
  [0.01, 0.02, 0.05, 0.09, 0.12, 0.15, 0.18, 0.2, 0.18, 0.14, 0.1, 0.07, 0.05, 0.03, 0.01, 0.01],
  [0.0, 0.01, 0.03, 0.06, 0.1, 0.14, 0.17, 0.15, 0.19, 0.13, 0.09, 0.06, 0.04, 0.02, 0.01, 0.0],
  [0.01, 0.02, 0.04, 0.07, 0.09, 0.11, 0.13, 0.14, 0.12, 0.1, 0.08, 0.05, 0.03, 0.02, 0.01, 0.01],
  [0.0, 0.01, 0.02, 0.04, 0.06, 0.08, 0.1, 0.12, 0.1, 0.08, 0.05, 0.03, 0.02, 0.01, 0.0, 0.0],
  [0.0, 0.0, 0.01, 0.02, 0.04, 0.06, 0.07, 0.07, 0.065, 0.05, 0.01, 0.02, 0.01, 0.01, 0.0, 0.0],
  [0.01, 0.04, 0.1, 0.18, 0.26, 0.34, 0.4, 0.44, 0.38, 0.34, 0.28, 0.2, 0.13, 0.07, 0.03, 0.01],
  [0.01, 0.03, 0.09, 0.16, 0.22, 0.3, 0.26, 0.38, 0.45, 0.3, 0.24, 0.18, 0.12, 0.06, 0.02, 0.01],
  [0.0, 0.02, 0.06, 0.12, 0.2, 0.28, 0.36, 0.3, 0.24, 0.32, 0.22, 0.15, 0.08, 0.03, 0.01, 0.0],
  [0.0, 0.01, 0.04, 0.09, 0.15, 0.21, 0.26, 0.35, 0.3, 0.26, 0.18, 0.12, 0.06, 0.02, 0.01, 0.0],
  [0.01, 0.03, 0.07, 0.13, 0.19, 0.16, 0.24, 0.2, 0.16, 0.22, 0.18, 0.13, 0.09, 0.05, 0.02, 0.01],
  [0.0, 0.01, 0.03, 0.07, 0.11, 0.16, 0.12, 0.18, 0.14, 0.1, 0.07, 0.05, 0.03, 0.01, 0.0, 0.0],
  [0.01, 0.02, 0.05, 0.1, 0.15, 0.21, 0.27, 0.24, 0.2, 0.17, 0.12, 0.09, 0.06, 0.03, 0.01, 0.01],
  [0.0, 0.01, 0.05, 0.11, 0.17, 0.25, 0.32, 0.38, 0.34, 0.26, 0.2, 0.14, 0.08, 0.03, 0.01, 0.0],
  [0.01, 0.05, 0.12, 0.2, 0.3, 0.38, 0.46, 0.52, 0.48, 0.42, 0.36, 0.28, 0.2, 0.11, 0.05, 0.01],
  [0.01, 0.04, 0.1, 0.17, 0.25, 0.33, 0.4, 0.36, 0.44, 0.38, 0.3, 0.24, 0.16, 0.09, 0.04, 0.01],
  [0.01, 0.03, 0.08, 0.15, 0.22, 0.28, 0.34, 0.4, 0.35, 0.3, 0.26, 0.2, 0.14, 0.08, 0.03, 0.01],
  [0.0, 0.02, 0.07, 0.14, 0.22, 0.18, 0.28, 0.24, 0.34, 0.28, 0.2, 0.14, 0.09, 0.04, 0.01, 0.0],
  [0.01, 0.02, 0.06, 0.09, 0.12, 0.15, 0.17, 0.22, 0.19, 0.16, 0.13, 0.1, 0.06, 0.03, 0.01, 0.01],
  [0.0, 0.01, 0.02, 0.05, 0.08, 0.1, 0.13, 0.16, 0.14, 0.11, 0.08, 0.05, 0.03, 0.01, 0.0, 0.0],
];

const xTicks = [0, 5, 10, 15, 20, 25];
const yTicks = [0, 0.2, 0.4, 0.6, 0.8, 1];
const yTickLabels = ["0", "0.2", "0.4", "0.6", "0.8", "1"];

const W = 1876;
const H = 767;
const margin = { left: 142.5, right: 24.5, top: 75.5, bottom: 131.5 };
const LINE = "#f28322";
const INK = "#4f4f4f";
const FONT = "'Liberation Sans', Arial, Helvetica, sans-serif";

// each day = night + daytime row + evening
const withNight = (rows: number[][], n: number[], e: number[]) => rows.map((r) => [...n, ...r, ...e]);
const days: number[][] = [
  ...withNight(clearSummer, nightHigh, eveHigh),
  ...withNight(earlyPeak, nightMid, eveHigh),
  ...withNight(latePeak, nightHigh, eveMid),
  ...withNight(clearSpring, nightMid, eveMid),
  ...withNight(clearWinter, nightLow, eveLow),
  ...withNight(mixedSky, nightMid, eveMid),
  ...withNight(clearingAfternoon, nightLow, eveMid),
  ...withNight(clearingMorning, nightMid, eveLow),
  ...withNight(partlyCloudy, nightHigh, eveMid),
  ...withNight(brokenCloud, nightMid, eveLow),
  ...withNight(overcast, nightLow, eveMid),
];

export default function App() {
  const x = d3.scaleLinear().domain([0, 25]).range([margin.left, W - margin.right]);
  const y = d3.scaleLinear().domain([0, 1.15]).range([H - margin.bottom, margin.top]);
  const line = d3
    .line<number>()
    .x((d, i) => x(hours[i]))
    .y((d) => y(d));

  const x0 = x(0), x1 = x(25), y0 = y(0), y1 = y(1.15);

  return (
    <svg width={W} height={H} style={{ position: "absolute", left: 0, top: 0, background: "#fff" }}>
      <rect x={0} y={0} width={W} height={H} fill="#fff" />
      {/* grid */}
      <g stroke="#e2e2e2" strokeWidth={2}>
        {xTicks.slice(1, -1).map((t) => (
          <line key={"gx" + t} x1={x(t)} x2={x(t)} y1={y0} y2={y1} />
        ))}
        {yTicks.slice(1).map((t) => (
          <line key={"gy" + t} x1={x0} x2={x1} y1={y(t)} y2={y(t)} />
        ))}
      </g>
      {/* daily curves */}
      <g fill="none" stroke={LINE} strokeWidth={4} strokeLinejoin="miter">
        {days.map((d, i) => (
          <path key={i} d={line(d) || ""} />
        ))}
      </g>
      {/* box + ticks */}
      <g stroke="#555" strokeWidth={2.5} fill="none">
        <rect x={x0} y={y1} width={x1 - x0} height={y0 - y1} />
        {xTicks.map((t) => (
          <g key={"tx" + t}>
            <line x1={x(t)} x2={x(t)} y1={y0} y2={y0 - 18} />
            <line x1={x(t)} x2={x(t)} y1={y1} y2={y1 + 18} />
          </g>
        ))}
        {yTicks.map((t) => (
          <g key={"ty" + t}>
            <line x1={x0} x2={x0 + 18} y1={y(t)} y2={y(t)} />
            <line x1={x1} x2={x1 - 18} y1={y(t)} y2={y(t)} />
          </g>
        ))}
      </g>
      {/* tick labels */}
      <g fill={INK} fontFamily={FONT} fontSize={45}>
        {xTicks.map((t) => (
          <text key={"lx" + t} x={x(t)} y={699} textAnchor="middle">
            {t}
          </text>
        ))}
        {yTicks.map((t, i) => (
          <text key={"ly" + t} x={123} y={y(t) + 16} textAnchor="end">
            {yTickLabels[i]}
          </text>
        ))}
      </g>
      <text x={(x0 + x1) / 2} y={763} textAnchor="middle" fill={INK} fontFamily={FONT} fontSize={50}>
        Time/h
      </text>
      <text
        transform={`translate(38, ${(y0 + y1) / 2}) rotate(-90)`}
        textAnchor="middle"
        fill={INK}
        fontFamily={FONT}
        fontSize={51}
      >
        Photovoltaic per unit value (pu)
      </text>
    </svg>
  );
}
